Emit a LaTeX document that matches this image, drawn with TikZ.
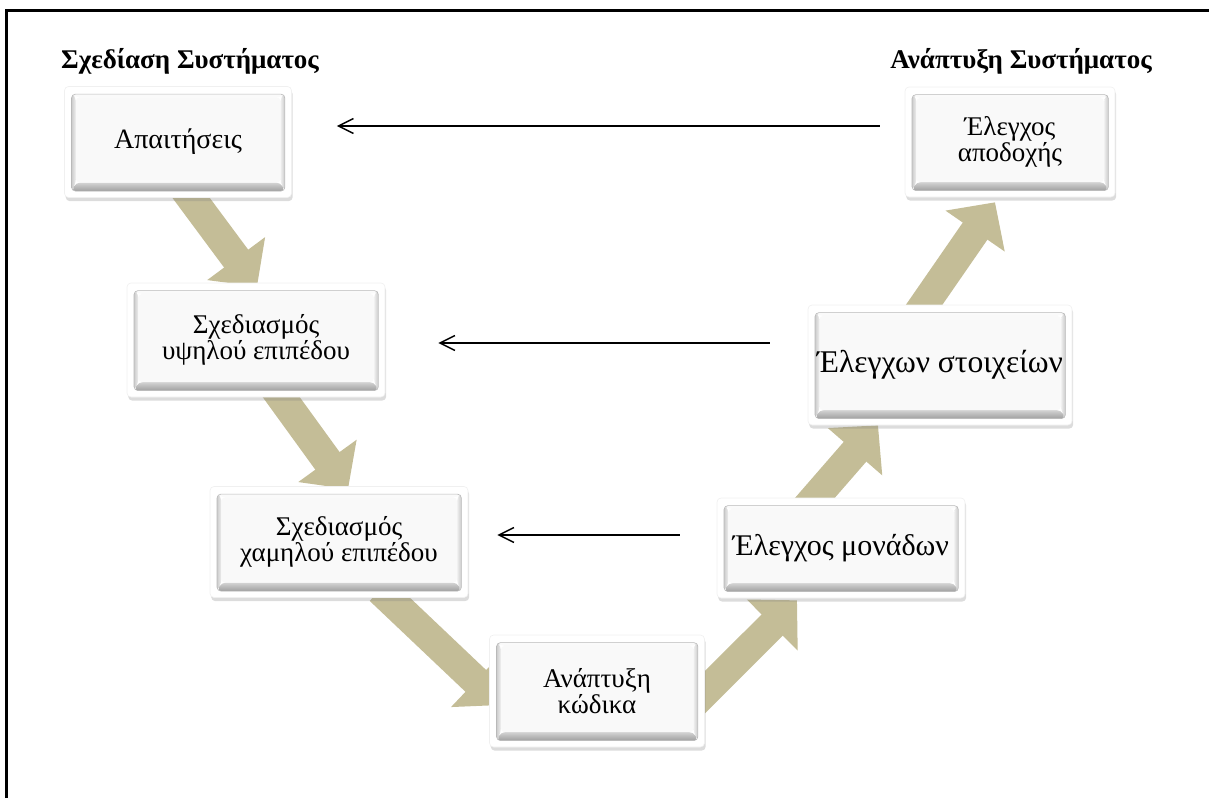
\documentclass[tikz,border=0pt]{standalone}
\usepackage{fontspec}
\setmainfont{Liberation Serif}
\usetikzlibrary{arrows.meta,shadows,backgrounds}
\newcommand\stagefont{\fontsize{13.5}{13}\selectfont}

\begin{document}
\begin{tikzpicture}[x=0.5pt,y=-0.5pt,
   stagebox/.style={rectangle,rounded corners=2pt,fill=white,draw=gray!12,line width=0.3pt,
     drop shadow={shadow xshift=0.6pt,shadow yshift=-1.8pt,opacity=0.28},
     align=center,font=\stagefont,inner sep=0pt,
     path picture={
       \path ([shift={(3.5pt,-3.8pt)}]path picture bounding box.north west) coordinate (bA)
             ([shift={(-3.3pt,3.2pt)}]path picture bounding box.south east) coordinate (bC);
       \path (bA -| bC) coordinate (bB) (bA |- bC) coordinate (bD);
       \path ([shift={(2.2pt,-1.6pt)}]bA) coordinate (fA) ([shift={(-2.2pt,4.2pt)}]bC) coordinate (fC);
       \path (fA -| fC) coordinate (fB) (fA |- fC) coordinate (fD);
       \fill[gray!4] (bA) -- (bB) -- (fB) -- (fA) -- cycle;
       \shade[left color=gray!40,right color=gray!12] (bA) -- (fA) -- (fD) -- (bD) -- cycle;
       \shade[left color=gray!12,right color=gray!42] (bB) -- (bC) -- (fC) -- (fB) -- cycle;
       \shade[top color=gray!35,bottom color=gray!75] (bD) -- (fD) -- (fC) -- (bC) -- cycle;
       \fill[gray!5] (fA) rectangle (fC);
       \draw[gray!55,line width=0.3pt] (bA) rectangle (bC);
     }},
   phasehead/.style={font=\stagefont\bfseries,anchor=base},
   stepflow/.style={draw={rgb,255:red,196;green,189;blue,151},line width=15pt,
     -{Triangle[length=17.5pt,width=35pt]}},
   feedback/.style={line width=0.75pt,-{Straight Barb[length=7.5pt,width=7.5pt]}}]
\useasboundingbox (0,0) rectangle (1209,798);
\draw[line width=1.25pt] (6.3,798) -- (6.3,10.5) -- (1209,10.5);

\node[phasehead] (design) at (190,68) {Σχεδίαση Συστήματος};
\node[phasehead] (build) at (1021,68) {Ανάπτυξη Συστήματος};

\node[stagebox,minimum width=113.5pt,minimum height=55.5pt,font=\fontsize{14}{13}\selectfont] (req) at (178,142) {Απαιτήσεις};
\node[stagebox,minimum width=129pt,minimum height=57pt] (high) at (256,340) {Σχεδιασμός\\υψηλού επιπέδου};
\node[stagebox,minimum width=129pt,minimum height=55.5pt] (low) at (339,542) {Σχεδιασμός\\χαμηλού επιπέδου};
\node[stagebox,minimum width=107.5pt,minimum height=56pt] (code) at (597,691) {Ανάπτυξη\\κώδικα};
\node[stagebox,minimum width=124pt,minimum height=50pt,font=\fontsize{15}{14}\selectfont] (units) at (841,548) {Έλεγχος μονάδων};
\node[stagebox,minimum width=132pt,minimum height=60pt,font=\fontsize{15.8}{15}\selectfont] (comps) at (940,365) {Έλεγχων στοιχείων};
\node[stagebox,minimum width=105pt,minimum height=55pt] (accept) at (1010,142) {Έλεγχος\\αποδοχής};

\begin{pgfonlayer}{background}
\draw[stepflow] ([shift={(-7.5pt,-9pt)}]req.center) -- ([shift={(0.5pt,-2pt)}]high.north);
\draw[stepflow] ([shift={(3.5pt,-16pt)}]high.center) -- ([shift={(4.5pt,-1.5pt)}]low.north);
\draw[stepflow] ([shift={(20.5pt,-24pt)}]low.center) -- ([shift={(6pt,-7pt)}]code.west);
\draw[stepflow] ([shift={(41.5pt,-13pt)}]code.center) -- ([shift={(-22pt,-1pt)}]units.south);
\draw[stepflow] ([shift={(-20.5pt,16.5pt)}]units.center) -- ([shift={(-31pt,0pt)}]comps.south);
\draw[stepflow] ([shift={(-12.5pt,23.5pt)}]comps.center) -- ([shift={(-7.5pt,-2.5pt)}]accept.south);
\end{pgfonlayer}

\draw[feedback,shorten <=12.5pt,shorten >=22.5pt] ([yshift=8pt]accept.west) -- ([yshift=8pt]req.east);
\draw[feedback,shorten <=19pt,shorten >=26.5pt] ([yshift=11pt]comps.west) -- ([yshift=-1.5pt]high.east);
\draw[feedback,shorten <=18.5pt,shorten >=14.5pt] ([yshift=6.5pt]units.west) -- ([yshift=3.5pt]low.east);
\end{tikzpicture}
\end{document}
